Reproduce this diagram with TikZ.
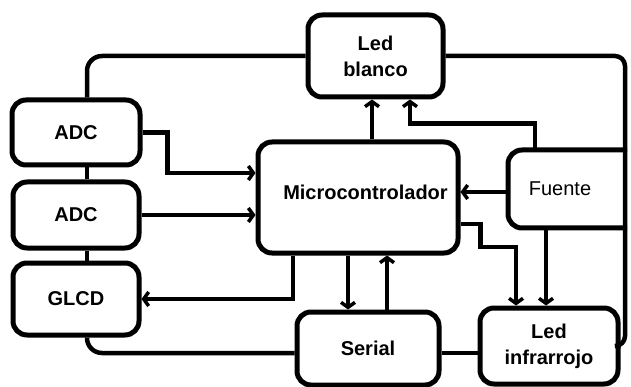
\documentclass[tikz,border=0pt]{standalone}
\usepackage{fontspec}
\setmainfont{Liberation Sans}
\usetikzlibrary{arrows.meta}
\begin{document}
\begin{tikzpicture}[x=1pt,y=-1pt,
  blk/.style={draw, line width=5pt, rounded corners=14pt, inner sep=0pt, align=center,
    font=\fontsize{20}{26}\selectfont\bfseries},
  wire/.style={line width=4.5pt, rounded corners=15pt},
  arr/.style={line width=4.5pt, -{Straight Barb[length=5pt,width=14pt,line width=3.5pt]}}]
\clip (0,0) rectangle (631,387);

% blocks
\node[blk, minimum width=128pt, minimum height=65pt] (adc1) at (76,132.5) {ADC};
\node[blk, minimum width=126pt, minimum height=66pt] (adc2) at (76,215) {ADC};
\node[blk, minimum width=126pt, minimum height=72pt] (glcd) at (76,299) {GLCD};
\node[blk, minimum width=135pt, minimum height=82pt] (ledb) at (375.5,56) {Led\\blanco};
\node[blk, minimum width=200pt, minimum height=111pt] (mc) at (358,197.5) {\raisebox{11pt}{\hspace*{15pt}Microcontrolador}};
\node[blk, minimum width=142pt, minimum height=73pt] (ser) at (368,348.5) {Serial};
\node[blk, minimum width=138pt, minimum height=76pt] (ledi) at (549,346) {Led\\infrarrojo};

% the supply block is open on its right side, where the bus line runs
\node[blk, draw=none, outer sep=0pt, minimum width=119pt, minimum height=78pt,
  font=\fontsize{20}{26}\selectfont\mdseries] (fu) at (567.5,189) {\raisebox{-7pt}{Fuente\hspace*{15pt}}};
\draw[line width=5pt, rounded corners=14pt] (fu.north east) -- (fu.north west) -- (fu.south west) -- (fu.south east);

% helper levels for the bus lines
\coordinate (yb) at (0,353);
\coordinate (xr) at (625,0);

% plain connections
\draw[wire] ([xshift=11pt]adc1.north) |- (ledb.west);
\draw[wire] ([xshift=11pt]adc1.south) -- ([xshift=11pt]adc2.north);
\draw[wire] ([xshift=11pt]adc2.south) -- ([xshift=11pt]glcd.north);
\draw[wire] ([xshift=11pt]glcd.south) |- (yb -| ser.west);
\draw[wire] (ser.east |- yb) -- (ledi.west |- yb);
\draw[wire, rounded corners=10pt] (ledb.east) -| (xr |- ledi.east) -- (ledi.east);

% signal arrows
\draw[arr] (adc1.east) -- ++(25,0) |- ([yshift=24.5pt]mc.west);
\draw[arr] (adc2.east) -- (adc2.east -| mc.west);
\draw[arr] ([xshift=-65pt]mc.south) |- (glcd.east);
\draw[arr] ([xshift=14pt]mc.north) -- ([xshift=-3.5pt]ledb.south);
\draw[arr] ([xshift=-32.5pt]fu.north) |- ([xshift=34.5pt,yshift=-24pt]ledb.south) -- ([xshift=34.5pt]ledb.south);
\draw[arr] ([yshift=-3pt]fu.west) -- ([yshift=5.5pt]mc.east);
\draw[arr] ([yshift=-26.5pt]mc.east) -- ++(20,0) -- ++(0,23) -| ([xshift=-33pt]ledi.north);
\draw[arr] ([xshift=-21.5pt]fu.south) -- ([xshift=-3pt]ledi.north);
\draw[arr] ([xshift=-10pt]mc.south) -- ([xshift=-20pt]ser.north);
\draw[arr] ([xshift=19pt]ser.north) -- ([xshift=29pt]mc.south);
\end{tikzpicture}
\end{document}
